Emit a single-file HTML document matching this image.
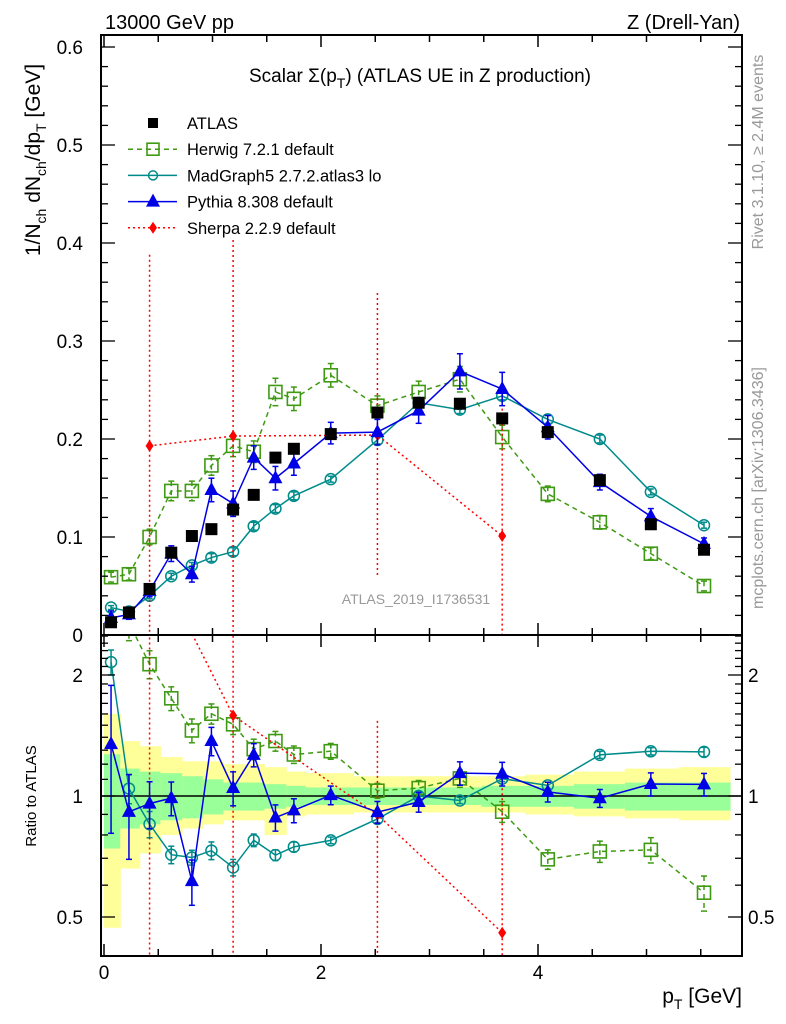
<!DOCTYPE html>
<html><head><meta charset="utf-8"><style>
body{margin:0;background:#fff;}
svg{display:block;font-family:"Liberation Sans",sans-serif;}
</style></head><body>
<svg id="chart" width="786" height="1024" viewBox="0 0 786 1024">
<defs>
<clipPath id="cm"><rect x="101" y="35" width="641" height="600"/></clipPath>
<clipPath id="cr"><rect x="101" y="636" width="641" height="320"/></clipPath>
</defs>
<g id="bands" clip-path="url(#cr)"></g>
<g id="main" clip-path="url(#cm)"></g>
<g id="ratio" clip-path="url(#cr)"></g>
<g id="axes"></g>
<text x="105" y="29" font-size="20">13000 GeV pp</text>
<text x="740" y="29" font-size="20" text-anchor="end">Z (Drell-Yan)</text>
<text x="420" y="82" font-size="19" text-anchor="middle">Scalar Σ(p<tspan font-size="14" dy="6">T</tspan><tspan dy="-6">) (ATLAS UE in Z production)</tspan></text>
<text x="416" y="604" font-size="14" fill="#999" text-anchor="middle">ATLAS_2019_I1736531</text>
<text transform="translate(40,160) rotate(-90)" font-size="21" text-anchor="middle">1/N<tspan font-size="14" dy="6">ch</tspan><tspan dy="-6"> dN</tspan><tspan font-size="14" dy="6">ch</tspan><tspan dy="-6">/dp</tspan><tspan font-size="14" dy="6">T</tspan><tspan dy="-6"> [GeV]</tspan></text>
<text transform="translate(36,796) rotate(-90)" font-size="15" text-anchor="middle">Ratio to ATLAS</text>
<text x="742" y="1003" font-size="21" text-anchor="end">p<tspan font-size="14" dy="6">T</tspan><tspan dy="-6"> [GeV]</tspan></text>
<text transform="translate(763,152) rotate(-90)" font-size="16" fill="#999" text-anchor="middle">Rivet 3.1.10, ≥ 2.4M events</text>
<text transform="translate(763,488) rotate(-90)" font-size="16" fill="#999" text-anchor="middle">mcplots.cern.ch [arXiv:1306.3436]</text>
<g id="legend"></g>
</svg>
<script>
const pT=[0.065,0.23,0.42,0.62,0.81,0.99,1.19,1.38,1.58,1.75,2.09,2.52,2.90,3.28,3.67,4.09,4.57,5.04,5.53];
const binEdges=[0,0.15,0.33,0.52,0.72,0.91,1.1,1.3,1.48,1.68,1.86,2.3,2.7,3.1,3.48,3.88,4.33,4.8,5.3,5.77];
const atlas=[0.013,0.023,0.047,0.084,0.101,0.108,0.128,0.143,0.181,0.190,0.205,0.227,0.237,0.236,0.221,0.207,0.158,0.113,0.087];
const herwig=[0.059,0.062,0.100,0.147,0.147,0.173,0.193,0.187,0.248,0.241,0.265,0.234,0.248,0.261,0.202,0.144,0.115,0.083,0.050];
const herwigErr=[0.005,0.006,0.008,0.010,0.010,0.010,0.011,0.011,0.014,0.012,0.012,0.010,0.011,0.013,0.012,0.008,0.007,0.006,0.005];
const madgraph=[0.028,0.024,0.040,0.060,0.071,0.079,0.085,0.111,0.129,0.142,0.159,0.199,0.237,0.230,0.244,0.220,0.200,0.146,0.112];
const madgraphErr=[0.002,0.002,0.003,0.003,0.003,0.004,0.004,0.004,0.004,0.004,0.003,0.004,0.004,0.004,0.004,0.004,0.004,0.003,0.003];
const pythia=[0.0175,0.021,0.045,0.083,0.062,0.148,0.134,0.181,0.160,0.175,0.206,0.207,0.229,0.269,0.251,0.212,0.156,0.121,0.093];
const pythiaErr=[0.007,0.005,0.006,0.008,0.008,0.012,0.013,0.012,0.012,0.012,0.011,0.013,0.013,0.018,0.017,0.012,0.008,0.008,0.006];
const sherpaIdx=[2,6,11,14];
const sherpa=[0.193,0.203,0.204,0.101];
const sherpaErr=[0.195,0.2,0.145,0.13];
const yellowHi=[1.6,1.37,1.33,1.25,1.22,1.22,1.2,1.2,1.18,1.15,1.14,1.12,1.12,1.12,1.12,1.13,1.15,1.17,1.18];
const yellowLo=[0.47,0.66,0.72,0.8,0.83,0.85,0.87,0.87,0.8,0.89,0.9,0.91,0.91,0.91,0.91,0.9,0.89,0.88,0.87];
const greenHi=[1.27,1.17,1.15,1.14,1.12,1.1,1.08,1.08,1.07,1.06,1.05,1.05,1.05,1.05,1.06,1.06,1.07,1.08,1.08];
const greenLo=[0.74,0.83,0.85,0.87,0.88,0.9,0.92,0.92,0.93,0.94,0.95,0.95,0.95,0.95,0.94,0.94,0.93,0.92,0.92];
const yTicks=[0,0.1,0.2,0.3,0.4,0.5,0.6];
const yTickLabels=["0","0.1","0.2","0.3","0.4","0.5","0.6"];
const xTicks=[0,2,4];
const rTicks=[0.5,1,2];

const NS="http://www.w3.org/2000/svg";
const X=v=>104+v*108.5;
const Y=v=>635-v*980;
const R=r=>796-121*Math.log2(Math.max(r,0.05));
function mk(p,tag,at){const e=document.createElementNS(NS,tag);for(const k in at)e.setAttribute(k,at[k]);p.appendChild(e);return e;}
const gB=document.getElementById('bands'),gM=document.getElementById('main'),gR=document.getElementById('ratio'),gA=document.getElementById('axes'),gL=document.getElementById('legend');

for(let i=0;i<pT.length;i++){
  const x0=X(binEdges[i]),x1=X(binEdges[i+1]);
  let e=mk(gB,'rect',{x:x0,y:R(yellowHi[i]),width:x1-x0+0.5,height:R(yellowLo[i])-R(yellowHi[i]),fill:'#ffff99'});
  
  
  e=mk(gB,'rect',{x:x0,y:R(greenHi[i]),width:x1-x0+0.5,height:R(greenLo[i])-R(greenHi[i]),fill:'#99ff99'});
  
  
}
let ln=mk(gR,'line',{x1:101,x2:742,y1:R(1),y2:R(1),stroke:'#000','stroke-width':1.5});



function marker(g,type,x,y,col){
  let e;
  if(type==='sq') e=mk(g,'rect',{x:x-6,y:y-6,width:12,height:12,fill:'#000'});
  else if(type==='osq') e=mk(g,'rect',{x:x-6.5,y:y-6.5,width:13,height:13,fill:'none',stroke:col,'stroke-width':1.6});
  else if(type==='circ') e=mk(g,'circle',{cx:x,cy:y,r:5.5,fill:'none',stroke:col,'stroke-width':1.5});
  else if(type==='tri') e=mk(g,'path',{d:`M${x} ${y-8}L${x+7} ${y+5}L${x-7} ${y+5}Z`,fill:col});
  else e=mk(g,'path',{d:`M${x} ${y-6}L${x+4} ${y}L${x} ${y+6}L${x-4} ${y}Z`,fill:col});
  return e;
}
function series(name,vals,errs,xs,col,dash,type,ratio){
  const g=ratio?gR:gM;
  const sc=v=>ratio?R(v):Y(v);
  const grp=mk(g,'g',{});
  
  
  const pts=vals.map((v,i)=>{const d=ratio?atlas[xs[i]]:1;return [X(pT[xs[i]]),v/d,errs?errs[i]/d:0];});
  const l=mk(grp,'polyline',{points:pts.map(p=>p[0]+','+sc(p[1])).join(' '),fill:'none',stroke:col,'stroke-width':1.5});
  if(dash)l.setAttribute('stroke-dasharray',dash);
  pts.forEach(p=>{
    if(errs){
      const lo=ratio?(p[1]-p[2]>0.05?sc(p[1]-p[2]):1000):sc(p[1]-p[2]);
      const e=mk(grp,'line',{x1:p[0],x2:p[0],y1:sc(p[1]+p[2]),y2:lo,stroke:col,'stroke-width':1.5});
      if(dash)e.setAttribute('stroke-dasharray',dash);
      if(type!=='dia'){mk(grp,'line',{x1:p[0]-3,x2:p[0]+3,y1:sc(p[1]+p[2]),y2:sc(p[1]+p[2]),stroke:col,'stroke-width':1.5});
      mk(grp,'line',{x1:p[0]-3,x2:p[0]+3,y1:lo,y2:lo,stroke:col,'stroke-width':1.5});}
    }
    const m=marker(grp,type,p[0],sc(p[1]),col);
    
    
  });
}
const all=pT.map((_,i)=>i);
[false,true].forEach(r=>{
  series('herwig',herwig,herwigErr,all,'#3f9a13','5,4','osq',r);
  series('madgraph',madgraph,madgraphErr,all,'#008b8b',null,'circ',r);
  series('sherpa',sherpa,sherpaErr,sherpaIdx,'#ff0000','2,3','dia',r);
  series('pythia',pythia,pythiaErr,all,'#0000e6',null,'tri',r);
});
atlas.forEach((v,i)=>{
  const m=marker(gM,'sq',X(pT[i]),Y(v),'#000');
  
  
});

[[35,635],[635,956]].forEach(([t,b],k)=>{
  const f=mk(gA,'rect',{x:101,y:t,width:641,height:b-t,fill:'none',stroke:'#000','stroke-width':2});
  
  
  for(let v=0;v<=5.8;v+=0.5){
    const len=(Math.abs(v%2)<1e-6)?12:7;
    mk(gA,'line',{x1:X(v),x2:X(v),y1:b,y2:b-len,stroke:'#000','stroke-width':1.5});
    mk(gA,'line',{x1:X(v),x2:X(v),y1:t,y2:t+len,stroke:'#000','stroke-width':1.5});
  }
});
for(let v=0;v<=0.605;v+=0.02){
  const maj=Math.abs(Math.round(v*10)-v*10)<1e-6, len=maj?14:7;
  mk(gA,'line',{x1:101,x2:101+len,y1:Y(v),y2:Y(v),stroke:'#000','stroke-width':1.3});
  mk(gA,'line',{x1:742,x2:742-len,y1:Y(v),y2:Y(v),stroke:'#000','stroke-width':1.3});
}
yTicks.forEach((v,i)=>{
  const t=mk(gA,'text',{x:83,y:Y(v)+7,'font-size':19,'text-anchor':'end'});t.textContent=yTickLabels[i];
  
  
});
[0.4,0.5,0.6,0.7,0.8,0.9,1,1.1,1.2,1.3,1.4,1.5,1.6,1.7,1.8,1.9,2,2.1,2.2,2.3,2.4,2.5].forEach(v=>{
  const len=rTicks.includes(v)?14:7;
  mk(gA,'line',{x1:101,x2:101+len,y1:R(v),y2:R(v),stroke:'#000','stroke-width':1.3});
  mk(gA,'line',{x1:742,x2:742-len,y1:R(v),y2:R(v),stroke:'#000','stroke-width':1.3});
});
rTicks.forEach(v=>{
  let t=mk(gA,'text',{x:83,y:R(v)+7,'font-size':19,'text-anchor':'end'});t.textContent=String(v);
  
  
  t=mk(gA,'text',{x:748,y:R(v)+7,'font-size':19});t.textContent=String(v);
  
  
});
xTicks.forEach(v=>{
  const t=mk(gA,'text',{x:X(v),y:979,'font-size':19,'text-anchor':'middle'});t.textContent=String(v);
  
  
});

const legNames=['ATLAS','Herwig 7.2.1 default','MadGraph5 2.7.2.atlas3 lo','Pythia 8.308 default','Sherpa 2.2.9 default'];
const legCols=['#000','#3f9a13','#008b8b','#0000e6','#ff0000'];
const legTypes=['sq','osq','circ','tri','dia'];
const legDash=[null,'5,4',null,null,'2,3'];
legNames.forEach((n,i)=>{
  const y=123+i*26.2;
  const g=mk(gL,'g',{});
  
  
  if(i>0){const l=mk(g,'line',{x1:128,x2:177,y1:y,y2:y,stroke:legCols[i],'stroke-width':1.5});if(legDash[i])l.setAttribute('stroke-dasharray',legDash[i]);}
  const m=marker(g,legTypes[i],153,y,legCols[i]);
  if(i===1){m.setAttribute('x',147);m.setAttribute('y',y-6);m.setAttribute('width',12);m.setAttribute('height',12);}
  if(i===0){m.setAttribute('x',148);m.setAttribute('y',y-5);m.setAttribute('width',10);m.setAttribute('height',10);}
  if(i===2)m.setAttribute('r',4.5);
  const t=mk(g,'text',{x:187,y:y+6,'font-size':16.5});t.textContent=n;
});
</script>
</body></html>
